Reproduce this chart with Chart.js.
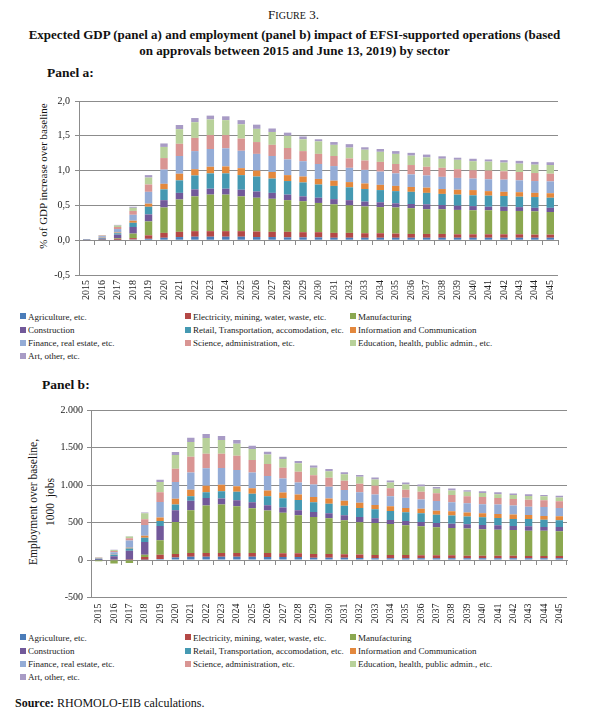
<!DOCTYPE html>
<html>
<head>
<meta charset="utf-8">
<script src="https://cdn.jsdelivr.net/npm/chart.js@4.4.0/dist/chart.umd.min.js"></script>
<style>
  body { margin: 0; background: #fff; }
  #page { position: relative; width: 589px; height: 718px; overflow: hidden;
          font-family: "Liberation Serif", "Times New Roman", serif; color: #111; }
  .t { position: absolute; white-space: nowrap; }
  .leg { position: absolute; white-space: nowrap; font-size: 9px; height: 13px; line-height: 13px; color: #222; }
  .sw { display: inline-block; width: 6px; height: 6px; margin-right: 2px; vertical-align: middle; position: relative; top: -1px; }
  canvas { position: absolute; left: 0; }
  .rot { position: absolute; transform: rotate(-90deg); text-align: center; white-space: nowrap; color: #111; }
</style>
</head>
<body>
<div id="page">
  <div class="t" style="left:0;width:587px;top:7px;line-height:16px;text-align:center;font-size:13px;">F<span style="font-size:10px;">IGURE</span> 3.</div>
  <div class="t" style="left:0;width:589px;top:27px;line-height:16px;text-align:center;font-size:13px;font-weight:bold;">Expected GDP (panel a) and employment (panel b) impact of EFSI-supported operations (based<br>on approvals between 2015 and June 13, 2019) by sector</div>
  <div class="t" style="left:47px;top:65px;line-height:16px;font-size:13.5px;font-weight:bold;">Panel a:</div>
  <div class="rot" style="left:-37px;top:168px;width:160px;height:16px;line-height:16px;font-size:11px;">% of GDP increase over baseline</div>
  <canvas id="chartA" width="589" height="222" style="top:88px;width:589px;height:222px;"></canvas>
  <div id="legA"></div>
  <div class="t" style="left:42px;top:377px;line-height:16px;font-size:13.5px;font-weight:bold;">Panel b:</div>
  <div class="rot" style="left:-28px;top:485px;width:140px;height:34px;line-height:17px;font-size:11.5px;">Employment over baseline,<br>1000&nbsp; jobs</div>
  <canvas id="chartB" width="589" height="232" style="top:398px;width:589px;height:232px;"></canvas>
  <div id="legB"></div>
  <div class="t" style="left:15px;top:695px;line-height:16px;font-size:12px;"><b>Source:</b> RHOMOLO-EIB calculations.</div>
</div>
<script>
// ---- categories ----
const years = ["2015","2016","2017","2018","2019","2020","2021","2022","2023","2024","2025","2026","2027","2028","2029","2030",
               "2031","2032","2033","2034","2035","2036","2037","2038","2039","2040","2041","2042","2043","2044","2045"];

const sectorNames = [
  "Agriculture, etc.",
  "Electricity, mining, water, waste, etc.",
  "Manufacturing",
  "Construction",
  "Retail, Transportation, accomodation, etc.",
  "Information and Communication",
  "Finance, real estate, etc.",
  "Science, administration, etc.",
  "Education, health, public admin., etc.",
  "Art, other, etc."
];
const sectorColors = ["#4a7cb9","#b44846","#8ba850","#72599a","#4599b2","#e3883d","#94acd6","#d99593","#b8d19a","#a89bc5"];

// ---- Panel a: % of GDP increase over baseline ----
const gdpAgriculture   = [0.002,0.003,0.005,0.01,0.02,0.035,0.045,0.05,0.05,0.05,0.05,0.045,0.045,0.04,0.04,0.04,0.035,0.035,0.035,0.035,0.035,0.035,0.035,0.035,0.035,0.035,0.035,0.035,0.035,0.035,0.035];
const gdpElectricity   = [0.002,0.005,0.015,0.02,0.05,0.07,0.075,0.08,0.08,0.08,0.08,0.08,0.075,0.08,0.075,0.075,0.07,0.07,0.065,0.065,0.06,0.055,0.055,0.055,0.05,0.05,0.05,0.05,0.05,0.045,0.045];
const gdpManufacturing = [0.001,0.003,0.01,0.065,0.2,0.365,0.465,0.5,0.525,0.525,0.5,0.485,0.475,0.455,0.445,0.42,0.41,0.395,0.385,0.375,0.375,0.37,0.355,0.355,0.35,0.345,0.345,0.335,0.335,0.335,0.325];
const gdpConstruction  = [0.002,0.012,0.05,0.095,0.1,0.105,0.095,0.1,0.085,0.085,0.095,0.09,0.085,0.08,0.07,0.075,0.075,0.075,0.07,0.07,0.06,0.06,0.07,0.06,0.06,0.06,0.05,0.06,0.055,0.05,0.06];
const gdpRetail        = [0.001,0.01,0.02,0.06,0.11,0.155,0.18,0.2,0.22,0.22,0.21,0.215,0.205,0.195,0.2,0.19,0.19,0.185,0.18,0.175,0.175,0.175,0.165,0.16,0.16,0.155,0.16,0.155,0.15,0.155,0.145];
const gdpInformation   = [0.001,0.005,0.01,0.03,0.045,0.08,0.095,0.09,0.095,0.1,0.1,0.085,0.095,0.085,0.085,0.08,0.075,0.075,0.08,0.075,0.075,0.07,0.075,0.07,0.07,0.075,0.065,0.06,0.065,0.06,0.065];
const gdpFinance       = [0.002,0.02,0.05,0.085,0.17,0.205,0.255,0.26,0.255,0.26,0.25,0.24,0.23,0.225,0.22,0.215,0.21,0.205,0.195,0.19,0.18,0.18,0.175,0.175,0.17,0.165,0.17,0.175,0.17,0.17,0.17];
const gdpScience       = [0.001,0.008,0.03,0.055,0.105,0.165,0.175,0.19,0.2,0.19,0.175,0.17,0.16,0.165,0.145,0.145,0.145,0.135,0.135,0.14,0.135,0.135,0.125,0.13,0.125,0.12,0.125,0.12,0.12,0.115,0.11];
const gdpEducation     = [0.001,0.005,0.02,0.045,0.1,0.16,0.21,0.225,0.225,0.215,0.205,0.19,0.185,0.175,0.17,0.18,0.16,0.155,0.155,0.145,0.145,0.135,0.135,0.13,0.135,0.13,0.13,0.125,0.12,0.12,0.125];
const gdpArt           = [0.001,0.004,0.01,0.015,0.035,0.05,0.06,0.06,0.055,0.055,0.06,0.06,0.05,0.045,0.04,0.03,0.04,0.05,0.035,0.04,0.04,0.04,0.04,0.035,0.03,0.035,0.03,0.035,0.04,0.04,0.04];

// ---- Panel b: employment over baseline, 1000 jobs ----
const empAgriculture   = [1,5,5,5,15,35,45,45,45,45,45,40,40,40,31,31,31,27,22,22,22,22,22,22,22,22,22,22,22,22,22];
const empElectricity   = [2,5,10,35,55,45,49,49,49,49,49,54,50,50,49,49,45,45,45,45,45,40,40,40,36,36,36,36,31,31,31];
const empManufacturing = [-15,-48,-40,30,195,428,570,632,646,624,597,566,539,508,494,477,454,432,428,414,396,388,374,365,361,352,347,343,338,338,329];
const empConstruction  = [10,40,110,170,187,156,125,102,80,80,80,71,71,67,67,67,67,71,62,53,58,58,58,58,58,58,58,53,58,49,58];
const empRetail        = [5,20,30,58,67,76,62,76,98,111,111,120,125,134,129,125,125,120,120,120,116,116,111,107,102,102,98,94,98,98,89];
const empInformation   = [2,5,10,27,49,76,85,85,85,76,76,76,76,76,71,71,67,67,58,62,58,58,53,58,53,53,53,58,53,49,53];
const empFinance       = [8,30,95,142,205,223,232,236,223,214,209,192,187,160,165,156,143,143,138,134,134,125,129,120,125,120,125,120,111,120,111];
const empScience       = [3,15,30,76,129,178,209,192,192,192,165,160,143,143,125,120,125,111,116,107,107,102,102,98,94,98,89,89,94,89,89];
const empEducation     = [3,12,22,80,138,183,196,209,183,160,147,129,116,111,98,89,85,94,85,76,71,71,62,58,58,53,49,53,49,53,53];
const empArt           = [2,5,5,10,31,40,58,53,53,49,45,36,31,31,31,27,27,22,27,27,27,27,22,27,22,22,27,18,22,18,22];

// ---- tick settings ----
const gdpTicks = { min: -0.5, max: 2.0, step: 0.5 };
const empTicks = { min: -500, max: 2000, step: 500 };

const gdpSeries = [gdpAgriculture,gdpElectricity,gdpManufacturing,gdpConstruction,gdpRetail,gdpInformation,gdpFinance,gdpScience,gdpEducation,gdpArt];
const empSeries = [empAgriculture,empElectricity,empManufacturing,empConstruction,empRetail,empInformation,empFinance,empScience,empEducation,empArt];

const FONT = '"Liberation Serif", "Times New Roman", serif';
const GRID = '#8c8c8c';

function fmtComma(v) { return v.toFixed(1).replace('.', ','); }
function fmtThousands(v) {
  const s = String(Math.abs(Math.round(v))).replace(/\B(?=(\d{3})+(?!\d))/g, '.');
  return (v < 0 ? '-' : '') + s;
}

function buildChart(id, series, tk, fmt, area) {
  return new Chart(document.getElementById(id), {
    type: 'bar',
    data: {
      labels: years,
      datasets: series.map((d, i) => ({
        label: sectorNames[i],
        data: d,
        xAxisID: 'x',
        backgroundColor: sectorColors[i],
        borderWidth: 0,
        barPercentage: 0.48,
        categoryPercentage: 1.0
      }))
    },
    options: {
      responsive: false,
      animation: false,
      layout: { padding: { left: 0, right: area.padRight, top: area.padTop, bottom: 0 } },
      plugins: { legend: { display: false }, tooltip: { enabled: false }, title: { display: false } },
      scales: {
        x: {
          stacked: true, offset: true,
          grid: { display: false, drawTicks: false },
          border: { display: false },
          ticks: { autoSkip: false, maxRotation: 90, minRotation: 90, padding: area.xPad, color: '#222', font: { family: FONT, size: 10 } },
          afterFit(s) { s.height = area.xH; }
        },
        x0: {
          type: 'category', axis: 'x', position: { y: 0 }, offset: true,
          grid: { offset: true, drawOnChartArea: false, drawTicks: true, tickLength: 4, color: GRID },
          border: { display: true, color: GRID, width: 1 },
          ticks: { display: false }
        },
        y: {
          stacked: true, min: tk.min, max: tk.max,
          ticks: { stepSize: tk.step, callback: fmt, padding: area.yPad, color: '#222', font: { family: FONT, size: 10 } },
          grid: { color: GRID, tickLength: 4, lineWidth: 1 },
          border: { display: true, color: GRID, width: 1 },
          afterFit(s) { s.width = area.yW; }
        }
      }
    }
  });
}

buildChart('chartA', gdpSeries, gdpTicks, fmtComma, { padRight: 31, padTop: 13, xH: 35, yW: 79, yPad: 5, xPad: 5 });
buildChart('chartB', empSeries, empTicks, fmtThousands, { padRight: 22, padTop: 12, xH: 32.5, yW: 91, yPad: 4, xPad: 6 });

function buildLegend(topCenter) {
  const colX = [20, 185, 350];
  sectorNames.forEach((name, i) => {
    const c = i % 3, r = Math.floor(i / 3);
    const el = document.createElement('div');
    el.className = 'leg';
    el.style.left = colX[c] + 'px';
    el.style.top = (topCenter + r * 13.1 - 6.5) + 'px';
    const sw = document.createElement('span');
    sw.className = 'sw';
    sw.style.background = sectorColors[i];
    el.appendChild(sw);
    el.appendChild(document.createTextNode(name));
    document.getElementById('page').appendChild(el);
  });
}
buildLegend(317);
buildLegend(638);
</script>
</body>
</html>
